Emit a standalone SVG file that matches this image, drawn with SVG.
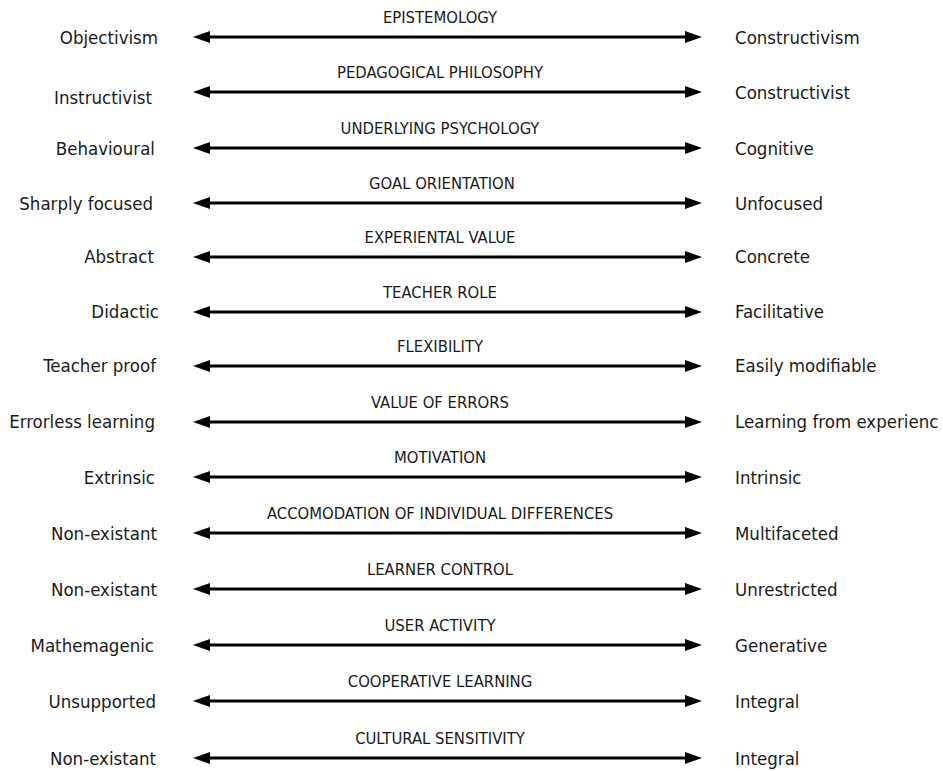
<svg xmlns="http://www.w3.org/2000/svg" width="943" height="771" viewBox="0 0 943 771">
  <defs>
    <style>
      text { font-family: "DejaVu Sans Condensed", "DejaVu Sans", sans-serif; font-stretch: condensed; fill: #1a1a1a; }
      .pole { font-size: 18.5px; }
      .left { text-anchor: end; }
      .right { text-anchor: start; }
      .dim { font-size: 16.5px; text-anchor: middle; }
      .axis { stroke: #000; stroke-width: 3; fill: none; marker-start: url(#head); marker-end: url(#head); }
    </style>
    <marker id="head" viewBox="0 0 17 12" refX="10" refY="6" markerWidth="17" markerHeight="12" markerUnits="userSpaceOnUse" orient="auto-start-reverse">
      <path d="M0,0 L17,6 L0,12 z" fill="#000"/>
    </marker>
  </defs>
  <rect width="943" height="771" fill="#fff"/>

  <!-- connectors: one double-headed axis per dimension -->
  <g id="connectors">
    <line class="axis" x1="200" y1="37" x2="695" y2="37"/>
    <line class="axis" x1="200" y1="92" x2="695" y2="92"/>
    <line class="axis" x1="200" y1="148" x2="695" y2="148"/>
    <line class="axis" x1="200" y1="203" x2="695" y2="203"/>
    <line class="axis" x1="200" y1="257" x2="695" y2="257"/>
    <line class="axis" x1="200" y1="312" x2="695" y2="312"/>
    <line class="axis" x1="200" y1="366" x2="695" y2="366"/>
    <line class="axis" x1="200" y1="422" x2="695" y2="422"/>
    <line class="axis" x1="200" y1="477" x2="695" y2="477"/>
    <line class="axis" x1="200" y1="533" x2="695" y2="533"/>
    <line class="axis" x1="200" y1="589" x2="695" y2="589"/>
    <line class="axis" x1="200" y1="645" x2="695" y2="645"/>
    <line class="axis" x1="200" y1="701" x2="695" y2="701"/>
    <line class="axis" x1="200" y1="758" x2="695" y2="758"/>
  </g>

  <g id="epistemology">
    <text class="dim" x="440" y="23">EPISTEMOLOGY</text>
    <text class="pole left" x="158" y="44">Objectivism</text>
    <text class="pole right" x="735" y="44">Constructivism</text>
  </g>
  <g id="pedagogical-philosophy">
    <text class="dim" x="440" y="78">PEDAGOGICAL PHILOSOPHY</text>
    <text class="pole left" x="152" y="104">Instructivist</text>
    <text class="pole right" x="735" y="99">Constructivist</text>
  </g>
  <g id="underlying-psychology">
    <text class="dim" x="440" y="134">UNDERLYING PSYCHOLOGY</text>
    <text class="pole left" x="155" y="155">Behavioural</text>
    <text class="pole right" x="735" y="155">Cognitive</text>
  </g>
  <g id="goal-orientation">
    <text class="dim" x="442" y="189">GOAL ORIENTATION</text>
    <text class="pole left" x="153" y="210">Sharply focused</text>
    <text class="pole right" x="735" y="210">Unfocused</text>
  </g>
  <g id="experiental-value">
    <text class="dim" x="440" y="243">EXPERIENTAL VALUE</text>
    <text class="pole left" x="154" y="263">Abstract</text>
    <text class="pole right" x="735" y="263">Concrete</text>
  </g>
  <g id="teacher-role">
    <text class="dim" x="440" y="298">TEACHER ROLE</text>
    <text class="pole left" x="159" y="318">Didactic</text>
    <text class="pole right" x="735" y="318">Facilitative</text>
  </g>
  <g id="flexibility">
    <text class="dim" x="440" y="352">FLEXIBILITY</text>
    <text class="pole left" x="156" y="372">Teacher proof</text>
    <text class="pole right" x="735" y="372">Easily modifiable</text>
  </g>
  <g id="value-of-errors">
    <text class="dim" x="440" y="408">VALUE OF ERRORS</text>
    <text class="pole left" x="155" y="428">Errorless learning</text>
    <text class="pole right" x="735" y="428">Learning from experienc</text>
  </g>
  <g id="motivation">
    <text class="dim" x="440" y="463">MOTIVATION</text>
    <text class="pole left" x="155" y="484">Extrinsic</text>
    <text class="pole right" x="735" y="484">Intrinsic</text>
  </g>
  <g id="individual-differences">
    <text class="dim" x="440" y="519">ACCOMODATION OF INDIVIDUAL DIFFERENCES</text>
    <text class="pole left" x="157" y="540">Non-existant</text>
    <text class="pole right" x="735" y="540">Multifaceted</text>
  </g>
  <g id="learner-control">
    <text class="dim" x="440" y="575">LEARNER CONTROL</text>
    <text class="pole left" x="157" y="596">Non-existant</text>
    <text class="pole right" x="735" y="596">Unrestricted</text>
  </g>
  <g id="user-activity">
    <text class="dim" x="440" y="631">USER ACTIVITY</text>
    <text class="pole left" x="154" y="652">Mathemagenic</text>
    <text class="pole right" x="735" y="652">Generative</text>
  </g>
  <g id="cooperative-learning">
    <text class="dim" x="440" y="687">COOPERATIVE LEARNING</text>
    <text class="pole left" x="156" y="708">Unsupported</text>
    <text class="pole right" x="735" y="708">Integral</text>
  </g>
  <g id="cultural-sensitivity">
    <text class="dim" x="440" y="744">CULTURAL SENSITIVITY</text>
    <text class="pole left" x="156" y="765">Non-existant</text>
    <text class="pole right" x="735" y="765">Integral</text>
  </g>
</svg>
